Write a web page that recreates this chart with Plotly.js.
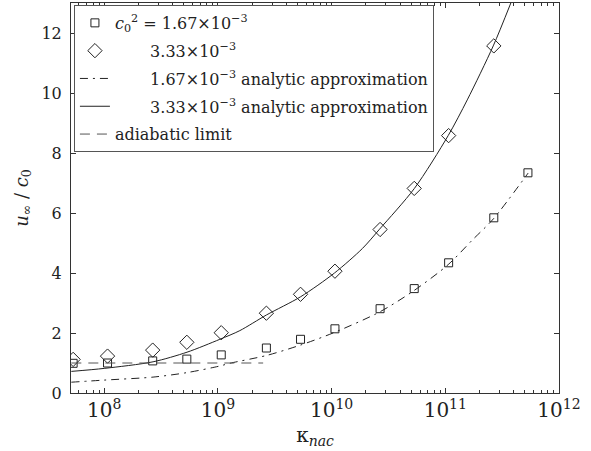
<!DOCTYPE html>
<html>
<head>
<meta charset="utf-8">
<script src="https://cdn.plot.ly/plotly-3.0.1.min.js"></script>
<style>
  html, body { margin: 0; padding: 0; background: #fff; }
  #chart { width: 591px; height: 451px; }
</style>
</head>
<body>
<div id="chart"></div>
<script>
// Simulated terminal velocity u_inf / c0 against kappa_nac
const kappaSquare = [5.33e7, 1.07e8, 2.67e8, 5.33e8, 1.07e9, 2.67e9, 5.33e9, 1.07e10, 2.67e10, 5.33e10, 1.07e11, 2.67e11, 5.33e11];
const uSquare = [0.99, 1.00, 1.07, 1.13, 1.27, 1.50, 1.79, 2.14, 2.81, 3.48, 4.34, 5.84, 7.34];

const kappaDiamond = [5.33e7, 1.07e8, 2.67e8, 5.33e8, 1.07e9, 2.67e9, 5.33e9, 1.07e10, 2.67e10, 5.33e10, 1.07e11, 2.67e11];
const uDiamond = [1.12, 1.23, 1.43, 1.69, 2.01, 2.66, 3.29, 4.06, 5.45, 6.82, 8.58, 11.57];

// Analytic approximation, c0^2 = 1.67e-3
const kappaApproxLow = [5.14e7, 1.0e8, 2.69e8, 5.35e8, 1.04e9, 1.27e9, 2.67e9, 5.35e9, 1.06e10, 2.64e10, 5.24e10, 1.06e11, 1.73e11, 2.64e11, 5.35e11];
const uApproxLow = [0.36, 0.43, 0.53, 0.68, 0.90, 0.99, 1.25, 1.60, 2.02, 2.70, 3.40, 4.28, 5.10, 5.80, 7.33];

// Analytic approximation, c0^2 = 3.33e-3
const kappaApproxHigh = [5.14e7, 1.0e8, 2.69e8, 5.35e8, 1.04e9, 1.56e9, 2.67e9, 5.35e9, 1.06e10, 1.87e10, 2.64e10, 5.35e10, 1.06e11, 1.56e11, 2.64e11, 3.77e11];
const uApproxHigh = [0.72, 0.82, 1.04, 1.36, 1.79, 2.08, 2.60, 3.21, 4.00, 4.82, 5.46, 6.82, 8.58, 9.77, 11.57, 13.0];

// Adiabatic limit
const kappaAdiabatic = [5.14e7, 2.5e9];
const uAdiabatic = [1.0, 1.0];

const legendNames = [
  '<i>c</i><sub>0</sub><sup>2</sup> = 1.67×10<sup>−3</sup>',
  '\u2003\u2003\u20093.33×10<sup>−3</sup>',
  '\u2003\u2003\u20091.67×10<sup>−3</sup> analytic approximation',
  '\u2003\u2003\u20093.33×10<sup>−3</sup> analytic approximation',
  'adiabatic limit'
];

const ink = '#222';
const serif = 'DejaVu Serif';

const traces = [
  {
    x: kappaSquare, y: uSquare, type: 'scatter', mode: 'markers',
    name: legendNames[0], legendgroup: 'a',
    marker: { symbol: 'square-open', size: 8, color: ink, line: { width: 1, color: ink } }
  },
  {
    x: kappaDiamond, y: uDiamond, type: 'scatter', mode: 'markers',
    name: legendNames[1], legendgroup: 'b',
    marker: { symbol: 'diamond-open', size: 11, color: ink, line: { width: 1, color: ink } }
  },
  {
    x: kappaApproxLow, y: uApproxLow, type: 'scatter', mode: 'lines',
    name: legendNames[2], legendgroup: 'c',
    line: { color: ink, width: 1, dash: '8px,5px,2px,5px', shape: 'spline', smoothing: 0.8 }
  },
  {
    x: kappaApproxHigh, y: uApproxHigh, type: 'scatter', mode: 'lines',
    name: legendNames[3], legendgroup: 'd',
    line: { color: ink, width: 1, shape: 'spline', smoothing: 0.8 }
  },
  {
    x: kappaAdiabatic, y: uAdiabatic, type: 'scatter', mode: 'lines',
    name: legendNames[4], legendgroup: 'e',
    line: { color: '#555', width: 1, dash: '10px,7px' }
  }
];

const layout = {
  width: 591,
  height: 451,
  margin: { l: 71, r: 32, t: 3, b: 58 },
  paper_bgcolor: '#fff',
  plot_bgcolor: '#fff',
  font: { family: serif, color: ink, size: 16 },
  showlegend: true,
  legend: {
    x: 0.006, y: 0.995, xanchor: 'left', yanchor: 'top',
    bgcolor: '#fff', bordercolor: '#555', borderwidth: 1,
    font: { family: serif, size: 16, color: ink },
    traceorder: 'grouped', tracegroupgap: 4, itemwidth: 30
  },
  xaxis: {
    type: 'log',
    range: [7.708, 12],
    dtick: 1,
    exponentformat: 'power',
    showline: true, linecolor: '#333', linewidth: 1, mirror: 'ticks',
    ticks: 'inside', ticklen: 5, tickcolor: '#333',
    minor: { ticks: 'inside', ticklen: 3, tickcolor: '#333', dtick: 'D1', showgrid: false },
    showgrid: false, zeroline: false,
    tickfont: { family: serif, size: 16, color: ink },
    title: { text: 'κ<sub><i>nac</i></sub>', font: { family: serif, size: 20, color: ink }, standoff: 6 }
  },
  yaxis: {
    range: [0, 13],
    dtick: 2,
    showline: true, linecolor: '#333', linewidth: 1, mirror: 'ticks',
    ticks: 'inside', ticklen: 5, tickcolor: '#333',
    showgrid: false, zeroline: false,
    tickfont: { family: serif, size: 16, color: ink },
    ticklabelstandoff: 5,
    title: { text: '<i>u</i><sub>∞</sub> / <i>c</i><sub>0</sub>', font: { family: serif, size: 18, color: ink }, standoff: 8 }
  }
};

Plotly.newPlot('chart', traces, layout, { displayModeBar: false, staticPlot: true });
</script>
</body>
</html>
